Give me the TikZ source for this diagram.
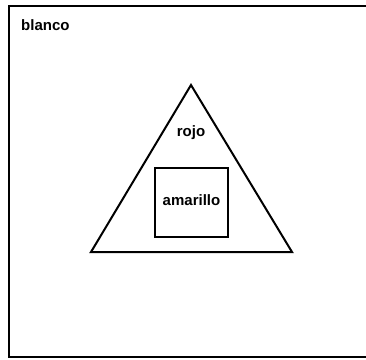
\documentclass[tikz,border=0pt]{standalone}
\usepackage{fontspec}
\setmainfont{Liberation Sans}
\begin{document}
\begin{tikzpicture}[x=1pt,y=1pt,line join=miter,
    font=\fontsize{15}{17}\selectfont\bfseries,
    borde/.style={line width=2pt},
    rotulo/.style={inner sep=0pt,anchor=base}]

  \useasboundingbox (0,0) rectangle (366,359);

  % ---- marco blanco ----
  \begin{scope}
    \clip (0,0) rectangle (366,359);
    \draw[borde] (9,2.5) rectangle (372,353);
  \end{scope}
  \node[rotulo,anchor=base west] (blanco) at (21,328) {blanco};

  % ---- triangulo rojo ----
  \coordinate (A) at (191,274);
  \coordinate (B) at (91,107);
  \coordinate (C) at (292,107);
  \draw[borde] (A) -- (B) -- (C) -- cycle;
  \node[rotulo] (rojo) at (191,222) {rojo};

  % ---- cuadrado amarillo ----
  \draw[borde] (155,122) rectangle (228,191);
  \node[rotulo] (amarillo) at (191.5,154) {amarillo};

\end{tikzpicture}
\end{document}
